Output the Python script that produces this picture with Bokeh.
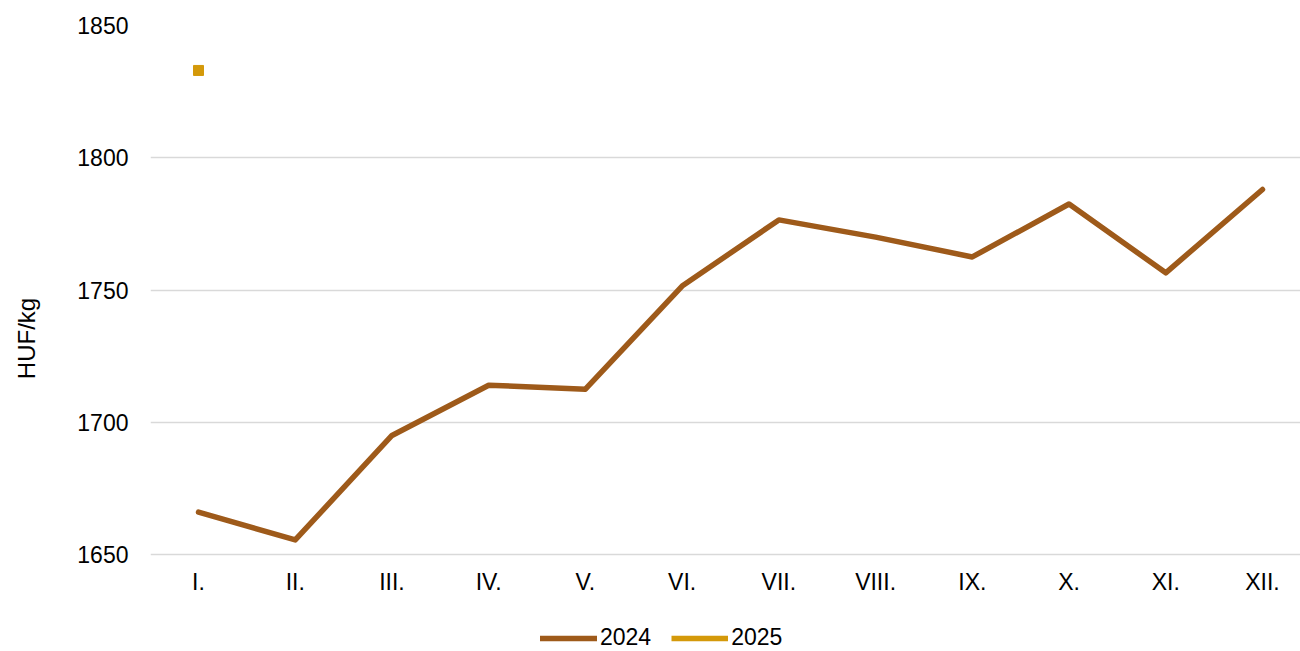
from bokeh.plotting import figure
from bokeh.models import Range1d, FixedTicker, Legend, LegendItem, LinearAxis
from bokeh.embed import file_html
from bokeh.resources import INLINE

months = ["I.", "II.", "III.", "IV.", "V.", "VI.", "VII.", "VIII.", "IX.", "X.", "XI.", "XII."]
values_2024 = [1666, 1655.5, 1695, 1714, 1712.5, 1751.5, 1776.5, 1770, 1762.5, 1782.5, 1756.5, 1788]
months_2025 = ["I."]
values_2025 = [1833]
y_ticks = [1650, 1700, 1750, 1800, 1850]

x_pos = list(range(1, len(months) + 1))
x_2025 = [months.index(m) + 1 for m in months_2025]

FONT = "Liberation Sans"
C2024 = "#9E5A1A"
C2025 = "#D4990A"

y_min, y_max = y_ticks[0], y_ticks[-1]
px_per_unit = 529 / (y_max - y_min)
y_bottom = y_min - 97 / px_per_unit

p = figure(frame_width=1150, frame_height=626,
           output_backend="svg", toolbar_location=None, x_axis_location=None,
           x_range=Range1d(0.5036, 12.393), y_range=Range1d(y_bottom, y_max),
           min_border_left=150, min_border_right=0, min_border_top=25, min_border_bottom=0)
p.outline_line_color = None
p.background_fill_color = "white"
p.border_fill_color = "white"

r1 = p.line(x_pos, values_2024, line_color=C2024, line_width=5.5, line_cap="round", line_join="round")
r2 = p.scatter(x_2025, values_2025, marker="square", size=10, fill_color=C2025, line_color=C2025)
r2_line = p.line(x_2025, values_2025, line_color=C2025, line_width=5.5, line_cap="butt")

xaxis = LinearAxis(fixed_location=y_min, ticker=FixedTicker(ticks=x_pos),
                   major_label_overrides={i: m for i, m in zip(x_pos, months)})
p.add_layout(xaxis, "below")
p.yaxis.ticker = FixedTicker(ticks=y_ticks)
p.yaxis.bounds = (y_min, y_max)

for ax in (xaxis, p.yaxis[0]):
    ax.axis_line_color = None
    ax.major_tick_line_color = None
    ax.minor_tick_line_color = None
    ax.major_tick_out = 0
    ax.minor_tick_out = 0
    ax.major_label_text_font = FONT
    ax.major_label_text_font_size = "23px"
    ax.major_label_text_color = "#000000"

xaxis.major_label_standoff = 14
p.yaxis.major_label_standoff = 22
p.yaxis.axis_label = "HUF/kg"
p.yaxis.axis_label_text_font = FONT
p.yaxis.axis_label_text_font_size = "24px"
p.yaxis.axis_label_text_font_style = "normal"
p.yaxis.axis_label_text_color = "#000000"
p.yaxis.axis_label_standoff = 34

p.xgrid.grid_line_color = None
p.ygrid.grid_line_color = "#D9D9D9"
p.ygrid.grid_line_width = 1.5
p.ygrid.ticker = FixedTicker(ticks=y_ticks)

legend = Legend(items=[LegendItem(label="2024", renderers=[r1]),
                       LegendItem(label="2025", renderers=[r2_line])],
                orientation="horizontal", location=(390, 0),
                label_text_font=FONT, label_text_font_size="23px",
                label_text_color="#000000", glyph_width=57, glyph_height=26,
                label_standoff=3, spacing=20, padding=0, margin=0,
                border_line_color=None, background_fill_alpha=0)
p.add_layout(legend, "center")

open("out.html", "w").write(file_html(p, INLINE))
